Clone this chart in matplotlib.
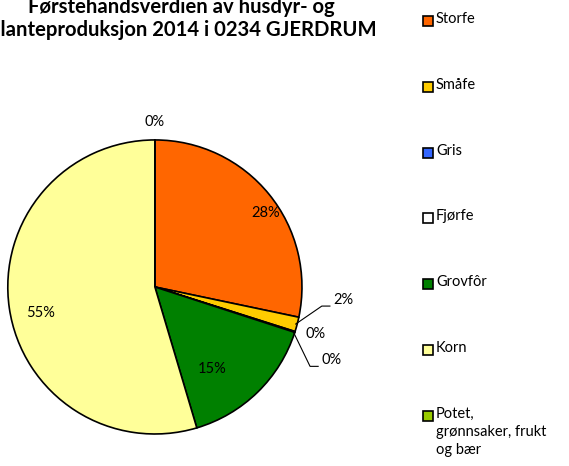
import numpy as np
import matplotlib.pyplot as plt
from matplotlib.patches import Rectangle

plt.rcParams['font.family'] = ['Lato', 'DejaVu Sans']

categories = ['Storfe', 'Småfe', 'Gris', 'Fjørfe', 'Grovfôr', 'Korn',
              'Potet,\ngrønnsaker, frukt\nog bær']
values = [28.3, 1.6, 0.1, 0.0, 15.4, 54.6, 0.0]
colors = ['#FF6600', '#FFCC00', '#3366FF', '#FFFFFF', '#008000', '#FFFF99', '#99CC00']

W, H = 569, 466
fig = plt.figure(figsize=(W / 100, H / 100), dpi=100)
ax = fig.add_axes([0.0137, 0.0687, 0.517, 0.631])

wedges, _ = ax.pie(values, colors=colors, startangle=90, counterclock=False,
                   wedgeprops=dict(edgecolor='black', linewidth=1.2))
ax.set_xlim(-1, 1)
ax.set_ylim(-1, 1)
ax.set_aspect('auto')

# label placement: (text x, text y, leader line?)
label_pos = [(0.75, 0.50, False), (1.21, -0.09, True), (1.09, -0.32, False),
             (1.13, -0.50, True), (0.39, -0.56, False), (-0.78, -0.18, False),
             (0.0, 1.12, False)]
total = sum(values)
for w, v, (tx, ty, lead) in zip(wedges, values, label_pos):
    txt = f'{v / total * 100:.0f}%'
    if lead:
        mid = np.deg2rad((w.theta1 + w.theta2) / 2)
        ex, ey = 0.99 * np.cos(mid), 0.99 * np.sin(mid)
        ly = ty - 0.04
        ax.plot([ex, tx - 0.075, tx - 0.02], [ey, ly, ly], color='black', lw=0.8,
                clip_on=False)
        ax.text(tx, ty, txt, ha='left', va='center', fontsize=10.5)
    else:
        ax.text(tx, ty, txt, ha='center', va='center', fontsize=10.5)

fig.text(0.318, 0.985, 'Førstehandsverdien av husdyr- og', ha='center', va='center',
         fontsize=14.6, fontweight='bold')
fig.text(0.321, 0.935, 'planteproduksjon 2014 i 0234 GJERDRUM', ha='center', va='center',
         fontsize=14.6, fontweight='bold')

# legend drawn by hand so the multi-line entry keeps its box on the first line
for i, (c, name) in enumerate(zip(colors, categories)):
    yc = 21 + i * 65.8
    fig.add_artist(Rectangle((423 / W, 1 - (yc + 5) / H), 10 / W, 10 / H,
                             facecolor=c, edgecolor='black', linewidth=1.2,
                             transform=fig.transFigure))
    fig.text(436 / W, 1 - (yc - 9) / H, name, ha='left', va='top',
             fontsize=10.5, linespacing=1.37)

fig.savefig('out.png', dpi=100)
